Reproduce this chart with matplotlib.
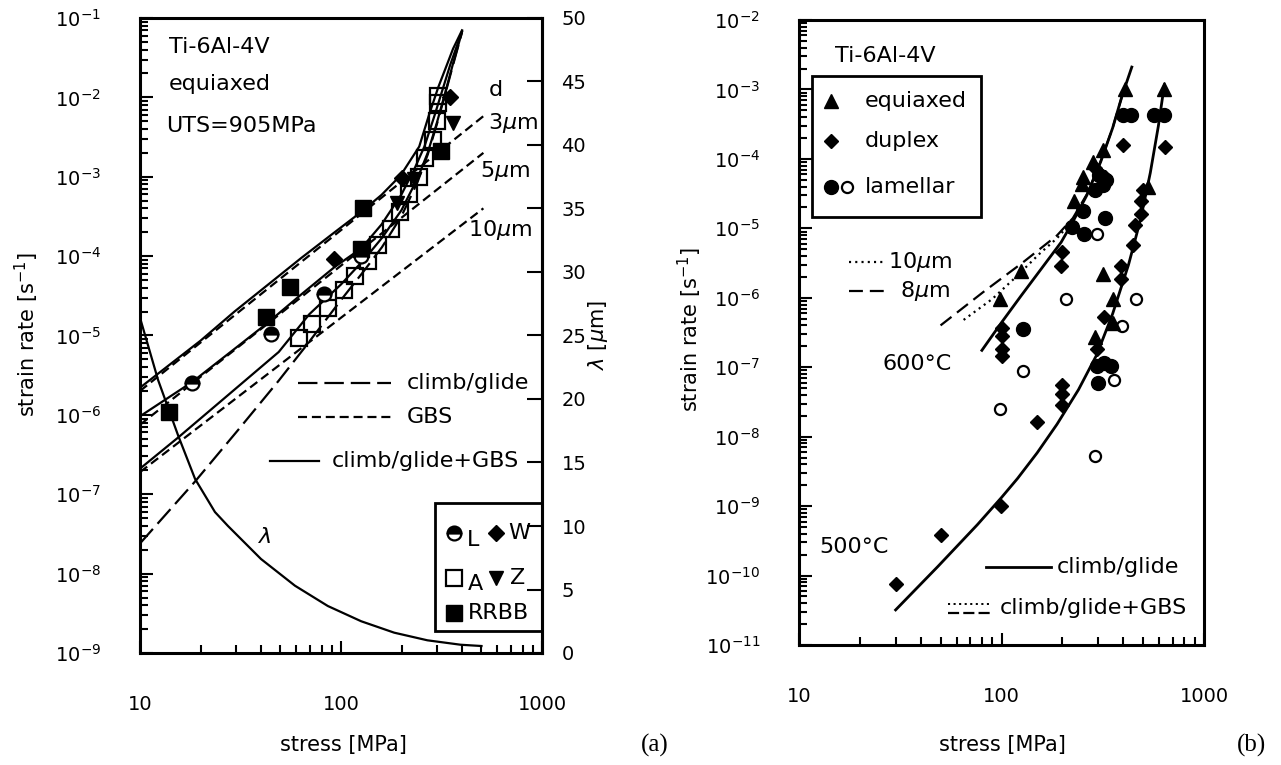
import matplotlib
matplotlib.use('Agg')
import matplotlib.pyplot as plt
from matplotlib.ticker import LogLocator, NullFormatter, FixedLocator, FixedFormatter
from matplotlib.patches import Rectangle

plt.rcParams['font.family'] = ['DejaVu Sans']
plt.rcParams['mathtext.fontset'] = 'dejavusans'
plt.rcParams['lines.scale_dashes'] = False

# ---------------- panel (a) data ----------------
rrbb_s = [14, 42.5, 56, 126, 128, 316]
rrbb_e = [1.1e-6, 1.7e-5, 4.1e-5, 1.24e-4, 4.0e-4, 2.1e-3]
l_s = [18.2, 45, 82, 126]
l_e = [2.5e-6, 1.03e-5, 3.3e-5, 1.0e-4]
w_s = [92, 200, 350]
w_e = [9.3e-5, 9.7e-4, 1.02e-2]
a_s = [62, 72, 86, 103, 118, 136, 153, 177, 196, 217, 243, 261, 286, 300, 304, 304]
a_e = [9.3e-6, 1.4e-5, 2.25e-5, 3.7e-5, 5.7e-5, 8.8e-5, 1.37e-4, 2.2e-4, 3.6e-4,
       6.1e-4, 1.0e-3, 1.7e-3, 2.9e-3, 5.0e-3, 8.6e-3, 1.05e-2]
z_s = [190, 232, 360]
z_e = [4.7e-4, 9.4e-4, 4.8e-3]

# climb/glide (long dash)
cg_s = [10, 18.8, 31, 49, 67, 100, 130, 160, 200, 240, 270, 300, 330, 360, 400]
cg_e = [2.4e-8, 1.45e-7, 6.6e-7, 2.7e-6, 7.4e-6, 2.8e-5, 6.5e-5, 1.3e-4, 3.2e-4,
        8.5e-4, 1.9e-3, 4.6e-3, 1.1e-2, 2.5e-2, 6.6e-2]
# GBS (short dash), d = 3, 5, 10 um
gbs_s = [10, 511]
gbs3_e = [2.0e-6, 5.8e-3]
gbs5_e = [7.5e-7, 2.0e-3]
gbs10_e = [1.9e-7, 4.0e-4]
# climb/glide + GBS (solid)
sum3_s = [10, 20, 29.5, 43, 63.5, 93, 126, 159, 198, 245, 274, 305, 335, 361, 400]
sum3_e = [2.2e-6, 8.6e-6, 2.0e-5, 4.3e-5, 9.5e-5, 2.0e-4, 3.6e-4, 5.9e-4, 1.04e-3,
          2.4e-3, 6.0e-3, 1.35e-2, 2.5e-2, 4.1e-2, 7e-2]
sum5_s = [10, 18.2, 30, 42.5, 63.5, 93, 126, 159, 200, 230, 260, 290, 320, 350, 400]
sum5_e = [9.6e-7, 2.6e-6, 7.0e-6, 1.4e-5, 3.3e-5, 7.3e-5, 1.25e-4, 2.5e-4, 6e-4,
          1.2e-3, 2.4e-3, 5.6e-3, 1.25e-2, 2.6e-2, 6.8e-2]
sum10_s = [10, 15.5, 27.6, 49, 69.5, 100, 130, 160, 200, 240, 270, 300, 330, 360, 400]
sum10_e = [2.1e-7, 5.2e-7, 1.8e-6, 6.2e-6, 1.85e-5, 4.4e-5, 9e-5, 1.7e-4, 3.8e-4,
           9.5e-4, 2.0e-3, 4.8e-3, 1.15e-2, 2.6e-2, 6.7e-2]
# lambda (right axis)
lam_s = [10, 12.3, 14.1, 15.5, 18.8, 23.6, 27.4, 40, 59, 86, 126, 184, 269, 394, 500]
lam_v = [26.4, 21.5, 18.9, 17.1, 13.7, 11.1, 10.0, 7.4, 5.3, 3.7, 2.5, 1.6, 1.0, 0.65, 0.55]

# ---------------- panel (b) data ----------------
eq_s = [98, 125, 228, 250, 252, 283, 316, 405, 289, 316, 354, 354, 531, 637]
eq_e = [9.6e-7, 2.4e-6, 2.5e-5, 4.3e-5, 5.4e-5, 9.1e-5, 1.35e-4, 1.03e-3,
        2.7e-7, 2.2e-6, 4.4e-7, 9.5e-7, 4.0e-5, 1.03e-3]
dup_s = [100, 100, 100, 100, 197, 199, 289, 323, 396,
         30, 50, 99, 150, 200, 200, 200, 295, 322, 387, 387, 444, 454, 490, 486, 497, 643]
dup_e = [3.7e-7, 2.8e-7, 1.8e-7, 1.45e-7, 2.9e-6, 4.5e-6, 7.3e-5, 5.5e-5, 1.56e-4,
         7.6e-11, 3.9e-10, 1.0e-9, 1.6e-8, 2.9e-8, 4.1e-8, 5.5e-8, 1.8e-7, 5.2e-7,
         1.87e-6, 2.9e-6, 5.7e-6, 1.1e-5, 1.63e-5, 2.5e-5, 3.6e-5, 1.5e-4]
lamf_s = [127, 222, 255, 252, 325, 289, 302, 316, 330, 396, 434,
          297, 320, 346, 299, 569, 637]
lamf_e = [3.6e-7, 1.05e-5, 8.2e-6, 1.8e-5, 1.42e-5, 3.6e-5, 5.9e-5, 4.2e-5, 5e-5, 4.35e-4, 4.35e-4,
          1.05e-7, 1.15e-7, 1.05e-7, 6e-8, 4.35e-4, 4.35e-4]
lamo_s = [98, 127, 208, 295, 289, 361, 392, 464]
lamo_e = [2.5e-8, 8.7e-8, 9.7e-7, 8.4e-6, 5.3e-9, 6.6e-8, 3.9e-7, 9.5e-7]

c600_s = [80, 100, 125, 157, 197, 225, 264, 309, 354, 396, 440]
c600_e = [1.75e-7, 4.4e-7, 1.07e-6, 2.6e-6, 6.3e-6, 1.24e-5, 3.0e-5, 9.1e-5, 2.8e-4, 8.5e-4, 2.1e-3]
c500_s = [30, 48.5, 76, 100, 120, 150, 188, 240, 295, 354, 424, 486, 543, 595, 637]
c500_e = [3.2e-11, 1.35e-10, 5.4e-10, 1.33e-9, 2.5e-9, 5.85e-9, 1.51e-8, 4.75e-8, 1.5e-7,
          5.9e-7, 3.0e-6, 1.34e-5, 6.3e-5, 2.96e-4, 1.16e-3]
d8_s = [50, 81, 127, 188, 225, 264, 309, 354, 396]
d8_e = [4.0e-7, 1.2e-6, 3.2e-6, 7.9e-6, 1.4e-5, 3.1e-5, 9.3e-5, 2.8e-4, 8.5e-4]
d10_s = [65, 90, 118, 154, 188, 225]
d10_e = [4.8e-7, 9.6e-7, 2.0e-6, 4.3e-6, 7.2e-6, 1.3e-5]

x_ticks = [10, 100, 1000]
x_labels = ['10', '100', '1000']

FS = 14
LONG = (0, (14, 5))
SHORT = (0, (6.5, 3.5))

fig = plt.figure(figsize=(12.81, 7.65), dpi=100)


def style_log_axes(ax, ylo, yhi):
    ax.set_xscale('log')
    ax.set_yscale('log')
    ax.set_xlim(10, 1000)
    ax.set_ylim(ylo, yhi)
    ax.xaxis.set_major_locator(FixedLocator(x_ticks))
    ax.xaxis.set_major_formatter(FixedFormatter(x_labels))
    ax.xaxis.set_minor_locator(LogLocator(base=10, subs=range(2, 10), numticks=20))
    ax.xaxis.set_minor_formatter(NullFormatter())
    ax.yaxis.set_major_locator(LogLocator(base=10, numticks=20))
    ax.yaxis.set_minor_locator(LogLocator(base=10, subs=range(2, 10), numticks=40))
    ax.yaxis.set_minor_formatter(NullFormatter())
    ax.tick_params(which='both', direction='in', top=False, right=False, width=1.5)
    ax.tick_params(which='major', length=9, labelsize=FS)
    ax.tick_params(which='minor', length=6)
    ax.tick_params(axis='y', which='major', pad=28)
    ax.tick_params(axis='x', which='major', pad=30)
    for sp in ax.spines.values():
        sp.set_linewidth(2.2)


# ---------------- (a) ----------------
ax = fig.add_axes([140 / 1281, 1 - 653 / 765, 402 / 1281, 635 / 765])
style_log_axes(ax, 1e-9, 1e-1)

ax.plot(cg_s, cg_e, color='black', lw=1.6, ls=LONG)
for ge in (gbs3_e, gbs5_e, gbs10_e):
    ax.plot(gbs_s, ge, color='black', lw=1.6, ls=SHORT)
for ss, se in ((sum3_s, sum3_e), (sum5_s, sum5_e), (sum10_s, sum10_e)):
    ax.plot(ss, se, color='black', lw=1.6)

ax.plot(a_s, a_e, ls='none', marker='s', ms=11, mfc='none', mec='black', mew=1.6)
ax.plot(rrbb_s, rrbb_e, ls='none', marker='s', ms=11, color='black')
ax.plot(l_s, l_e, ls='none', marker='o', ms=10, mec='black', mfc='black',
        fillstyle='top', markerfacecoloralt='white', mew=1.6)
ax.plot(w_s, w_e, ls='none', marker='D', ms=8, color='black')
ax.plot(z_s, z_e, ls='none', marker='v', ms=10, color='black')

T = ax.transAxes
ax.text(0.071, 0.955, 'Ti-6Al-4V', transform=T, fontsize=FS + 2, va='center')
ax.text(0.071, 0.896, 'equiaxed', transform=T, fontsize=FS + 2, va='center')
ax.text(0.064, 0.83, 'UTS=905MPa', transform=T, fontsize=FS + 2, va='center')
ax.text(0.867, 0.886, 'd', transform=T, fontsize=FS + 2, va='center')
ax.text(0.866, 0.835, r'3$\mu$m', transform=T, fontsize=FS + 2, va='center')
ax.text(0.845, 0.7585, r'5$\mu$m', transform=T, fontsize=FS + 2, va='center')
ax.text(0.816, 0.666, r'10$\mu$m', transform=T, fontsize=FS + 2, va='center')
ax.text(0.31, 0.183, r'$\lambda$', transform=T, fontsize=FS + 2, va='center', ha='center')

# line legend (no frame)
ax.plot([0.394, 0.624], [0.425, 0.425], transform=T, color='black', lw=1.6, ls=LONG)
ax.text(0.663, 0.425, 'climb/glide', transform=T, fontsize=FS + 2, va='center')
ax.plot([0.394, 0.624], [0.372, 0.372], transform=T, color='black', lw=1.6, ls=SHORT)
ax.text(0.663, 0.372, 'GBS', transform=T, fontsize=FS + 2, va='center')
ax.plot([0.323, 0.445], [0.303, 0.303], transform=T, color='black', lw=1.6)
ax.text(0.478, 0.303, 'climb/glide+GBS', transform=T, fontsize=FS + 2, va='center')

# marker legend box
ax.add_patch(Rectangle((0.733, 0.034), 0.267, 0.202, transform=T, fill=False,
                       ec='black', lw=2.0, zorder=5))
ax.plot([0.78], [0.189], transform=T, ls='none', marker='o', ms=10, mec='black',
        mfc='black', fillstyle='top', markerfacecoloralt='white', mew=1.6)
ax.text(0.812, 0.178, 'L', transform=T, fontsize=FS + 2, va='center')
ax.plot([0.885], [0.189], transform=T, ls='none', marker='D', ms=8, color='black')
ax.text(0.915, 0.189, 'W', transform=T, fontsize=FS + 2, va='center')
ax.plot([0.78], [0.1175], transform=T, ls='none', marker='s', ms=11, mfc='none',
        mec='black', mew=1.6)
ax.text(0.815, 0.108, 'A', transform=T, fontsize=FS + 2, va='center')
ax.plot([0.885], [0.1175], transform=T, ls='none', marker='v', ms=10, color='black')
ax.text(0.92, 0.1175, 'Z', transform=T, fontsize=FS + 2, va='center')
ax.plot([0.78], [0.0625], transform=T, ls='none', marker='s', ms=11, color='black')
ax.text(0.815, 0.0625, 'RRBB', transform=T, fontsize=FS + 2, va='center')

ax2 = ax.twinx()
ax2.set_ylim(0, 50)
ax2.set_yticks(range(0, 51, 5))
ax2.tick_params(direction='in', length=11, width=1.5, labelsize=FS, pad=14)
ax2.spines['right'].set_linewidth(2.2)
ax2.plot(lam_s, lam_v, color='black', lw=1.6)

fig.text(343 / 1281, 1 - 745 / 765, 'stress [MPa]', fontsize=FS + 1, ha='center', va='center')
fig.text(27 / 1281, 1 - 335 / 765, 'strain rate [s$^{-1}$]', fontsize=FS + 1,
         ha='center', va='center', rotation=90)
fig.text(598 / 1281, 1 - 335 / 765, r'$\lambda$ [$\mu$m]', fontsize=FS + 1,
         ha='center', va='center', rotation=90)
fig.text(655 / 1281, 1 - 745 / 765, '(a)', fontsize=18, family='Liberation Serif',
         ha='center', va='center')

# ---------------- (b) ----------------
bx = fig.add_axes([799 / 1281, 1 - 645 / 765, 405 / 1281, 625 / 765])
style_log_axes(bx, 1e-11, 1e-2)

bx.plot(c600_s, c600_e, color='black', lw=2.0)
bx.plot(c500_s, c500_e, color='black', lw=2.0)
bx.plot(d8_s, d8_e, color='black', lw=1.6, ls=(0, (10, 5)))
bx.plot(d10_s, d10_e, color='black', lw=1.6, ls=(0, (1.5, 3)))

bx.plot(lamo_s, lamo_e, ls='none', marker='o', ms=8, mfc='white', mec='black', mew=1.6)
bx.plot(lamf_s, lamf_e, ls='none', marker='o', ms=10, color='black')
bx.plot(dup_s, dup_e, ls='none', marker='D', ms=7, color='black')
bx.plot(eq_s, eq_e, ls='none', marker='^', ms=10, color='black')

U = bx.transAxes
bx.text(0.088, 0.943, 'Ti-6Al-4V', transform=U, fontsize=FS + 2, va='center')
bx.add_patch(Rectangle((0.032, 0.685), 0.417, 0.225, transform=U, fill=False,
                       ec='black', lw=2.0, zorder=5))
bx.plot([0.080], [0.871], transform=U, ls='none', marker='^', ms=10, color='black')
bx.text(0.162, 0.871, 'equiaxed', transform=U, fontsize=FS + 2, va='center')
bx.plot([0.080], [0.806], transform=U, ls='none', marker='D', ms=7, color='black')
bx.text(0.162, 0.806, 'duplex', transform=U, fontsize=FS + 2, va='center')
bx.plot([0.078], [0.733], transform=U, ls='none', marker='o', ms=10, color='black')
bx.plot([0.119], [0.733], transform=U, ls='none', marker='o', ms=8, mfc='white',
        mec='black', mew=1.6)
bx.text(0.162, 0.733, 'lamellar', transform=U, fontsize=FS + 2, va='center')

bx.plot([0.123, 0.216], [0.6124, 0.6124], transform=U, color='black', lw=1.6, ls=(0, (1.5, 3)))
bx.text(0.22, 0.6124, r'10$\mu$m', transform=U, fontsize=FS + 2, va='center')
bx.plot([0.123, 0.216], [0.5668, 0.5668], transform=U, color='black', lw=1.6, ls=(0, (10, 5)))
bx.text(0.25, 0.5668, r'8$\mu$m', transform=U, fontsize=FS + 2, va='center')
bx.text(0.206, 0.4488, '600°C', transform=U, fontsize=FS + 2, va='center')
bx.text(0.049, 0.157, '500°C', transform=U, fontsize=FS + 2, va='center')

bx.plot([0.461, 0.623], [0.1247, 0.1247], transform=U, color='black', lw=2.0)
bx.text(0.637, 0.1247, 'climb/glide', transform=U, fontsize=FS + 2, va='center')
bx.plot([0.368, 0.475], [0.066, 0.066], transform=U, color='black', lw=1.4, ls=(0, (1.5, 2.5)))
bx.plot([0.368, 0.475], [0.0515, 0.0515], transform=U, color='black', lw=1.6, ls=(0, (8, 3)))
bx.text(0.495, 0.0597, 'climb/glide+GBS', transform=U, fontsize=FS + 2, va='center')

fig.text(1002 / 1281, 1 - 745 / 765, 'stress [MPa]', fontsize=FS + 1, ha='center', va='center')
fig.text(690 / 1281, 1 - 330 / 765, 'strain rate [s$^{-1}$]', fontsize=FS + 1,
         ha='center', va='center', rotation=90)
fig.text(1251 / 1281, 1 - 745 / 765, '(b)', fontsize=18, family='Liberation Serif',
         ha='center', va='center')

fig.savefig('out.png', dpi=100)
